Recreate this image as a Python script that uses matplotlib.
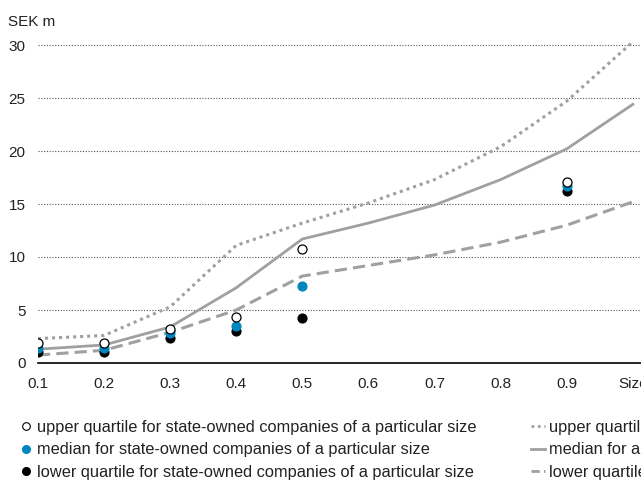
import matplotlib
matplotlib.use("Agg")
import matplotlib.pyplot as plt
from matplotlib.lines import Line2D

plt.rcParams['font.family'] = ['Liberation Sans', 'DejaVu Sans']

# All companies (lines)
size_all = [0.1, 0.2, 0.3, 0.4, 0.5, 0.6, 0.7, 0.8, 0.9, 1.0]
upper_all = [2.3, 2.6, 5.3, 11.1, 13.2, 15.1, 17.3, 20.4, 24.7, 30.3]
median_all = [1.3, 1.7, 3.4, 7.1, 11.7, 13.2, 14.9, 17.3, 20.2, 24.4]
lower_all = [0.75, 1.2, 2.9, 5.0, 8.2, 9.2, 10.2, 11.4, 13.0, 15.2]

# State-owned companies (dots)
size_so = [0.1, 0.2, 0.3, 0.4, 0.5, 0.9]
upper_so = [1.9, 1.9, 3.2, 4.3, 10.8, 17.1]
median_so = [1.4, 1.4, 2.8, 3.5, 7.3, 16.7]
lower_so = [1.0, 1.0, 2.4, 3.0, 4.2, 16.2]

xticks = [0.1, 0.2, 0.3, 0.4, 0.5, 0.6, 0.7, 0.8, 0.9, 1.0]
xticklabels = ['0.1', '0.2', '0.3', '0.4', '0.5', '0.6', '0.7', '0.8', '0.9', 'Size']
yticks = [0, 5, 10, 15, 20, 25, 30]

GREY = '#a0a0a0'
BLUE = '#0086bf'

fig = plt.figure(figsize=(6.41, 4.82), dpi=100)
W, H = 641, 482
x0px, x1px = 38, 646
ax = fig.add_axes([x0px / W, (H - 363) / H, (x1px - x0px) / W, 31 * 10.6 / H])
ax.set_xlim(0.1, 1.02)
ax.set_ylim(0, 31)

for s in ['top', 'right', 'left']:
    ax.spines[s].set_visible(False)
ax.spines['bottom'].set_color('black')
ax.spines['bottom'].set_linewidth(1.2)

for y in yticks[1:]:
    ax.axhline(y, color='#555555', lw=0.8, ls=(0, (1, 1.5)), zorder=1)

ax.plot(size_all, upper_all, color=GREY, lw=2.2, ls=(0, (1, 1.3)), zorder=2)
ax.plot(size_all, median_all, color=GREY, lw=2.0, ls='-', zorder=2)
ax.plot(size_all, lower_all, color=GREY, lw=2.2, ls=(0, (4, 2)), zorder=2)

ax.plot(size_so, lower_so, 'o', color='black', ms=6.5, mew=0.8, zorder=3, ls='none')
ax.plot(size_so, median_so, 'o', color=BLUE, ms=6.5, mew=0.8, zorder=4, ls='none')
ax.plot(size_so, upper_so, 'o', mfc='white', mec='black', ms=6.5, mew=0.9, zorder=5, ls='none')

ax.set_xticks(xticks)
ax.set_xticklabels(xticklabels)
ax.set_yticks(yticks)
ax.tick_params(axis='both', length=0, labelsize=11, colors='#222222')
ax.tick_params(axis='x', pad=10)
ax.tick_params(axis='y', pad=9)

fig.text(8 / W, 1 - 22 / H, 'SEK m', fontsize=11, color='#222222', va='center', ha='left')

handles = [
    Line2D([], [], ls='none', marker='o', mfc='white', mec='black', ms=5.5, mew=0.8),
    Line2D([], [], ls='none', marker='o', color=BLUE, ms=5.5),
    Line2D([], [], ls='none', marker='o', color='black', ms=5.5),
    Line2D([], [], color=GREY, lw=2, ls=(0, (1, 1.3))),
    Line2D([], [], color=GREY, lw=2),
    Line2D([], [], color=GREY, lw=2, ls=(0, (3, 1.5))),
]
labels = [
    'upper quartile for state-owned companies of a particular size',
    'median for state-owned companies of a particular size',
    'lower quartile for state-owned companies of a particular size',
    'upper quartile for all companies of a particular size',
    'median for all companies of a particular size',
    'lower quartile for all companies of a particular size',
]
leg = fig.legend(handles, labels, ncol=2, loc='upper left',
                 bbox_to_anchor=(19 / W, 1 - 420 / H), frameon=False,
                 fontsize=11.8, handlelength=0.8, handletextpad=0.3,
                 columnspacing=3.35, labelspacing=0.45, borderaxespad=0,
                 borderpad=0)
for t in leg.get_texts():
    t.set_color('#222222')

fig.savefig('out.png', dpi=100)
